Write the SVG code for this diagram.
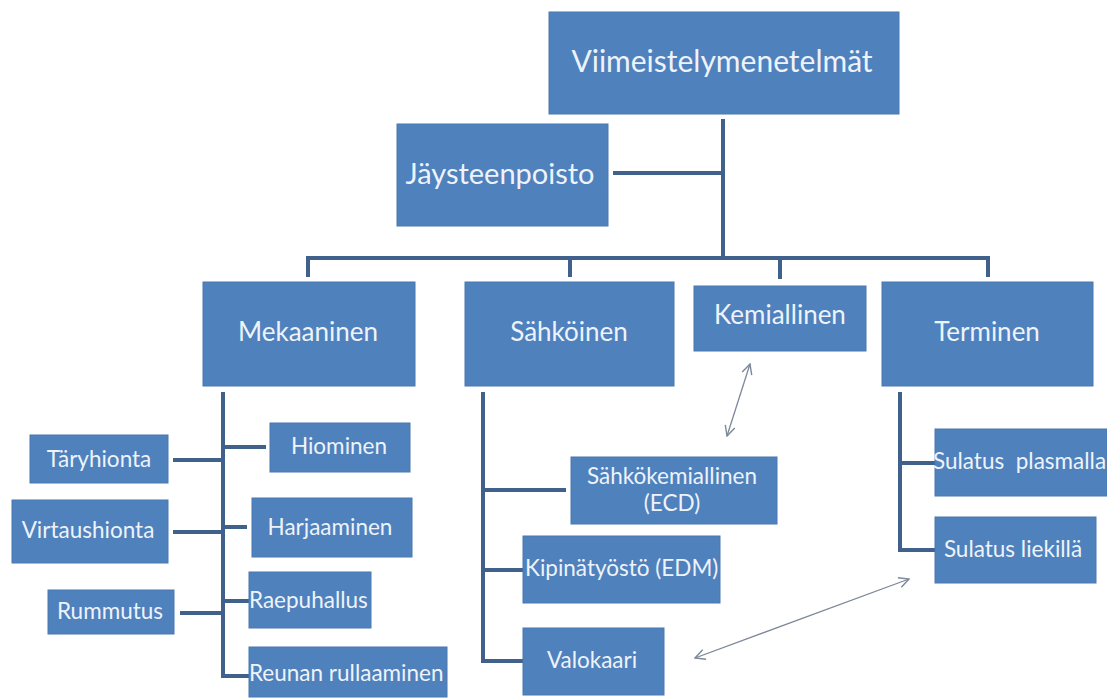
<svg xmlns="http://www.w3.org/2000/svg" width="1107" height="700" viewBox="0 0 1107 700">
<style>
  .box { fill: #4f81bd; stroke: #4a78b0; stroke-width: 1; }
  .t { font-family: Lato, "Liberation Sans", sans-serif; fill: #eef3fa; }
  .top { font-size: 30px; }
  .jay { font-size: 29px; }
  .big { font-size: 26px; }
  .sm { font-size: 22.5px; }
  .c { text-anchor: middle; }
  .ln { stroke: #41618d; stroke-width: 4; fill: none; }
  .ar { stroke: #7d8898; stroke-width: 1.3; fill: none; }
</style>
<defs>
  <marker id="ah" viewBox="0 0 12 12" refX="11" refY="6" markerWidth="12" markerHeight="12" markerUnits="userSpaceOnUse" orient="auto-start-reverse">
    <path d="M1,1 L11,6 L1,11" fill="none" stroke="#7d8898" stroke-width="1.4"/>
  </marker>
</defs>
<rect width="1107" height="700" fill="#ffffff"/>

<g id="connectors">
  <path class="ln" d="M723,119 V258"/>
  <path class="ln" d="M613,173 H723"/>
  <path class="ln" d="M308,277 V258 H988 V277"/>
  <path class="ln" d="M570,258 V277"/>
  <path class="ln" d="M780,258 V279"/>
  <path class="ln" d="M223,392 V676 H249"/>
  <path class="ln" d="M223,447 H266"/>
  <path class="ln" d="M173,460 H223"/>
  <path class="ln" d="M173,532 H223"/>
  <path class="ln" d="M223,527 H247"/>
  <path class="ln" d="M180,613 H223"/>
  <path class="ln" d="M223,601 H249"/>
  <path class="ln" d="M483,392 V661 H523"/>
  <path class="ln" d="M483,490 H566"/>
  <path class="ln" d="M483,570 H523"/>
  <path class="ln" d="M900,392 V550 H935"/>
  <path class="ln" d="M900,463 H935"/>
  <path class="ar" d="M750,364 L727,436" marker-start="url(#ah)" marker-end="url(#ah)"/>
  <path class="ar" d="M909,579 L695,658" marker-start="url(#ah)" marker-end="url(#ah)"/>
</g>

<g id="n-viimeistely">
  <rect class="box" x="549" y="12" width="350" height="102"/>
  <text class="t top c" x="722" y="72">Viimeistelymenetelmät</text>
</g>
<g id="n-jaysteenpoisto">
  <rect class="box" x="397" y="124" width="211" height="102"/>
  <text class="t jay c" x="500" y="184">Jäysteenpoisto</text>
</g>
<g id="n-mekaaninen">
  <rect class="box" x="203" y="282" width="212" height="104"/>
  <text class="t big c" x="308" y="341">Mekaaninen</text>
</g>
<g id="n-sahkoinen">
  <rect class="box" x="465" y="282" width="209" height="104"/>
  <text class="t big c" x="569" y="341">Sähköinen</text>
</g>
<g id="n-kemiallinen">
  <rect class="box" x="694" y="286" width="172" height="65"/>
  <text class="t big c" x="780" y="324">Kemiallinen</text>
</g>
<g id="n-terminen">
  <rect class="box" x="882" y="282" width="211" height="104"/>
  <text class="t big c" x="987" y="341">Terminen</text>
</g>

<g id="n-hiominen">
  <rect class="box" x="270" y="423" width="140" height="49"/>
  <text class="t sm c" x="339" y="454">Hiominen</text>
</g>
<g id="n-taryhionta">
  <rect class="box" x="30" y="435" width="138" height="48"/>
  <text class="t sm c" x="99" y="467">Täryhionta</text>
</g>
<g id="n-virtaushionta">
  <rect class="box" x="12" y="500" width="156" height="63"/>
  <text class="t sm c" x="88" y="538">Virtaushionta</text>
</g>
<g id="n-harjaaminen">
  <rect class="box" x="252" y="498" width="160" height="59"/>
  <text class="t sm c" x="330" y="535">Harjaaminen</text>
</g>
<g id="n-rummutus">
  <rect class="box" x="48" y="590" width="126" height="44"/>
  <text class="t sm c" x="110" y="619">Rummutus</text>
</g>
<g id="n-raepuhallus">
  <rect class="box" x="249" y="572" width="122" height="56"/>
  <text class="t sm" x="249" y="608">Raepuhallus</text>
</g>
<g id="n-reunan">
  <rect class="box" x="249" y="647" width="198" height="50"/>
  <text class="t sm" x="249" y="681">Reunan rullaaminen</text>
</g>

<g id="n-sahkokemiallinen">
  <rect class="box" x="571" y="457" width="206" height="67"/>
  <text class="t sm c" x="672" y="484">Sähkökemiallinen</text>
  <text class="t sm c" x="672" y="511">(ECD)</text>
</g>
<g id="n-kipinatyosto">
  <rect class="box" x="523" y="536" width="197" height="67"/>
  <text class="t sm" x="525" y="576">Kipinätyöstö (EDM)</text>
</g>
<g id="n-valokaari">
  <rect class="box" x="523" y="628" width="141" height="67"/>
  <text class="t sm c" x="592" y="668">Valokaari</text>
</g>

<g id="n-plasmalla">
  <rect class="box" x="935" y="429" width="172" height="67"/>
  <text class="t sm" x="933" y="469" xml:space="preserve">Sulatus  plasmalla</text>
</g>
<g id="n-liekilla">
  <rect class="box" x="935" y="517" width="161" height="66"/>
  <text class="t sm c" x="1013" y="557">Sulatus liekillä</text>
</g>
</svg>
